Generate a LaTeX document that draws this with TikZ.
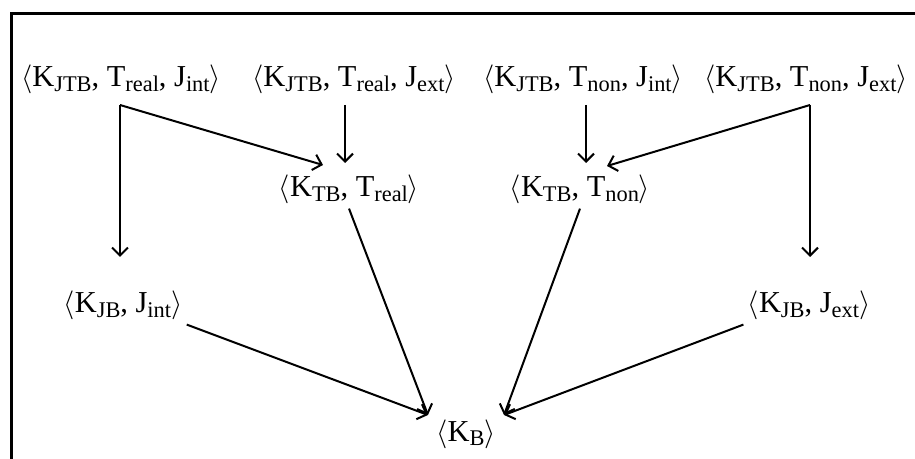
\documentclass[tikz,border=0pt]{standalone}
\usepackage{fontspec}
\setmainfont{Liberation Serif}
\usetikzlibrary{arrows.meta,calc}
\newcommand{\tup}[1]{$\langle$#1$\rangle$}
\newcommand{\lw}[1]{\raisebox{-0.35ex}{\fontsize{11.2}{12}\selectfont #1}}

\begin{document}
\begin{tikzpicture}[x=0.5pt,y=-0.5pt,
    every node/.style={font=\fontsize{15.2}{18}\selectfont,inner sep=2pt},
    arr/.style={line width=1pt,-{Straight Barb[length=4pt,width=8pt]}}]
		%%%%% START %%%%%
		
		\useasboundingbox (0,0) rectangle (915,459);
		\draw[line width=1.5pt] (11,462) -- (11,13.5) -- (918,13.5);
		
		\node[anchor=base] (jtbri) at (121,87) {\tup{K\lw{JTB}, T\lw{real}, J\lw{int}}};
		\node[anchor=base] (jtbre) at (354,87) {\tup{K\lw{JTB}, T\lw{real}, J\lw{ext}}};
		\node[anchor=base] (jtbni) at (583,87) {\tup{K\lw{JTB}, T\lw{non}, J\lw{int}}};
		\node[anchor=base] (jtbne) at (806,87) {\tup{K\lw{JTB}, T\lw{non}, J\lw{ext}}};
		
		\node[anchor=base] (tbr) at (349,197) {\tup{K\lw{TB}, T\lw{real}}};
		\node[anchor=base] (tbn) at (580,197) {\tup{K\lw{TB}, T\lw{non}}};
		
		\node[anchor=base] (jbi) at (123,313) {\tup{K\lw{JB}, J\lw{int}}};
		\node[anchor=base] (jbe) at (809,313) {\tup{K\lw{JB}, J\lw{ext}}};
		
		\node[anchor=base] (b) at (466,441) {\tup{K\lw{B}}};
		
		\coordinate (cl) at (120,105);
		\coordinate (cr) at (810,105);
		\coordinate (vl) at (345,105);
		\coordinate (vr) at (586,105);
		
		\draw[arr,shorten >=15pt] (cl) -- (cl |- jbi.north);
		\draw[arr] (cl) -- ($(tbr.north)+(-13pt,3pt)$);
		\draw[arr,shorten >=4pt] (vl) -- (vl |- tbr.north);
		
		\draw[arr,shorten >=4pt] (vr) -- (vr |- tbn.north);
		\draw[arr] (cr) -- ($(tbn.north)+(13.5pt,2.5pt)$);
		\draw[arr,shorten >=15pt] (cr) -- (cr |- jbe.north);
		
		\draw[arr] (jbi.south east) -- ($(b.north west)+(-2pt,0pt)$);
		\draw[arr] (tbr.south) -- ($(b.north west)+(-2pt,0pt)$);
		\draw[arr] (tbn.south) -- ($(b.north east)+(2pt,0pt)$);
		\draw[arr] (jbe.south west) -- ($(b.north east)+(2pt,0pt)$);
		
		%%%%% END %%%%%
\end{tikzpicture}
\end{document}
